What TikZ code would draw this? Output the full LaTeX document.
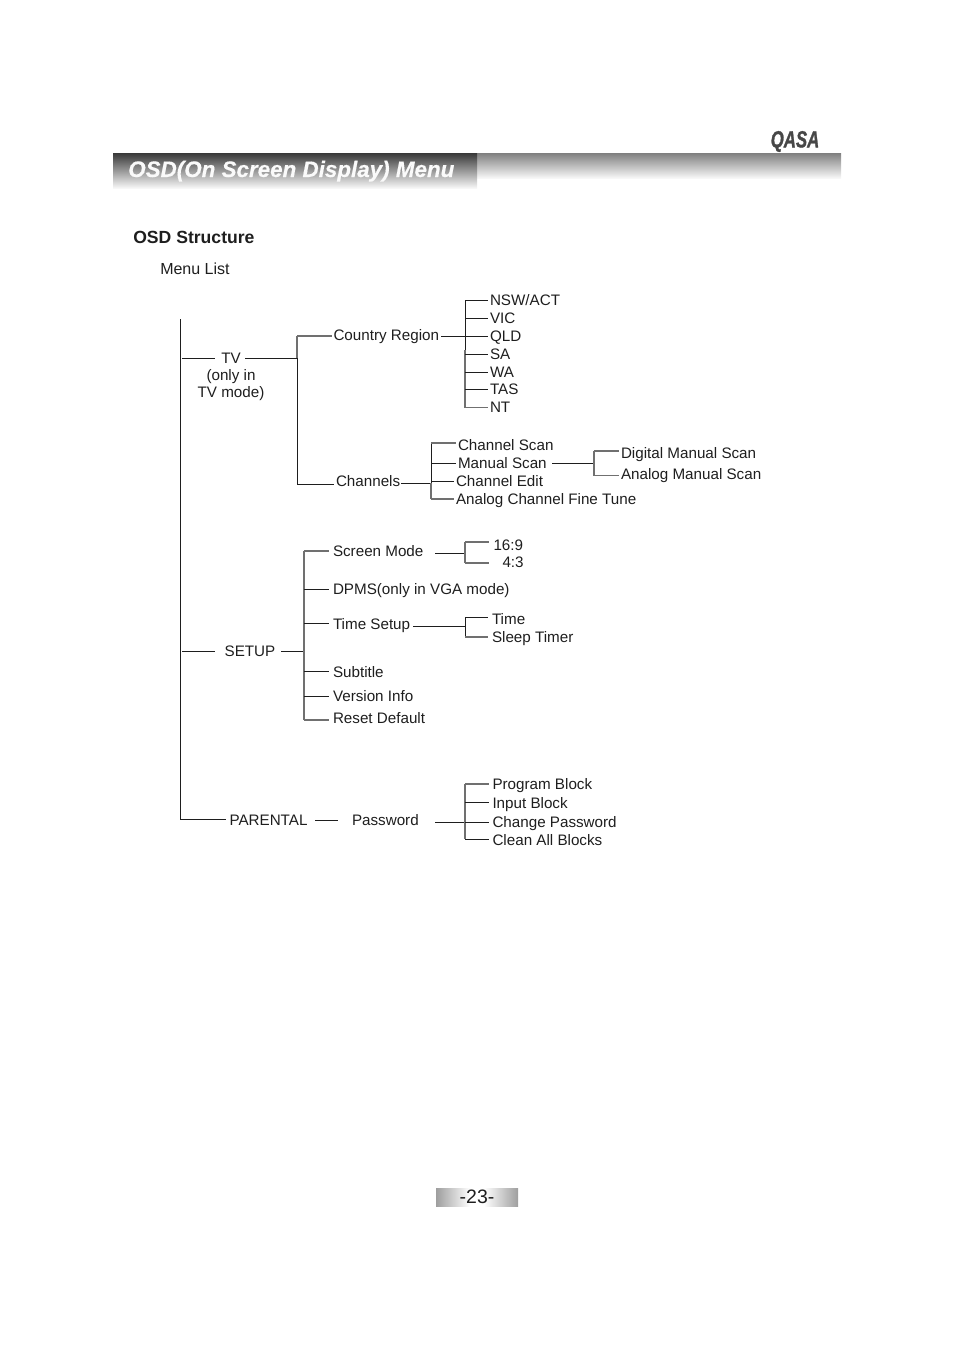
\documentclass[tikz,border=0pt]{standalone}
\usepackage{fontspec}
\setmainfont{Liberation Sans}
\newfontfamily\brandfont{Liberation Sans}[BoldItalicFeatures={FakeBold=1.5}]
\newfontfamily\titlefont{Liberation Sans}[BoldItalicFeatures={FakeBold=0.4}]
\definecolor{ink}{HTML}{1E1E1E}
\definecolor{soft}{HTML}{707070}
\tikzset{
  lab/.style={anchor=west,inner sep=0pt,outer sep=1.5pt,text height=8.2pt,text depth=0pt,font=\fontsize{11.4}{13}\selectfont,text=ink},
  gapped/.style={outer sep=3pt},
  ctr/.style={lab,anchor=center},
  wire/.style={draw=ink,line width=0.75pt},
  softwire/.style={draw=soft,line width=0.85pt}
}
\begin{document}
\begin{tikzpicture}[x=0.75pt,y=-0.75pt]
\useasboundingbox (0,0) rectangle (954,1350);
% header
\fill[top color=black!50,bottom color=black!3] (477,153) rectangle (841,178);
\fill[top color=black!78,bottom color=black!3] (113,153) rectangle (477,188);
\node[anchor=west,inner sep=0pt,text height=12pt,text depth=0pt,text=black!2,font=\titlefont\fontsize{16.8}{20}\bfseries\itshape\selectfont] (title) at (128,169) {OSD(On Screen Display) Menu};
\node[anchor=center,inner sep=0pt,text=black!72,font=\brandfont\fontsize{17.5}{20}\bfseries\itshape\selectfont,xscale=0.72] (brand) at (795,141.5) {QASA};
\node[anchor=west,inner sep=0pt,text height=9pt,text depth=0pt,font=\fontsize{13.2}{16}\bfseries\selectfont,text=ink] (struct) at (133,237) {OSD Structure};
\node[anchor=west,inner sep=0pt,text height=8.6pt,text depth=0pt,font=\fontsize{12}{14}\selectfont,text=ink] (mlist) at (160,269) {Menu List};
% footer
\fill[left color=black!38,right color=white] (436,1188) rectangle (470,1206);
\fill[white] (470,1188) rectangle (484,1206);
\fill[left color=white,right color=black!38] (484,1188) rectangle (518,1206);
\node[anchor=center,inner sep=0pt,font=\fontsize{14.6}{18}\selectfont,text=ink] (page) at (477,1197) {-23-};
% top level
\node[ctr] (tv) at (231,358) {TV};
\node[ctr] (tv2) at (231,375) {(only in};
\node[ctr] (tv3) at (231,392) {TV mode)};
\node[ctr] (setup) at (250,651) {SETUP};
\node[lab,gapped] (parental) at (225.5,820) {PARENTAL};
\node[lab] (password) at (350,820) {Password};
% level 2
\node[lab] (country) at (331.5,335.5) {Country Region};
\node[lab] (channels) at (334,481.5) {Channels};
\node[lab,gapped] (screen) at (329,551) {Screen Mode};
\node[lab,gapped] (dpms) at (329,589) {DPMS(only in VGA mode)};
\node[lab,gapped] (tsetup) at (329,624) {Time Setup};
\node[lab,gapped] (subtitle) at (329,672) {Subtitle};
\node[lab,gapped] (version) at (329,696) {Version Info};
\node[lab,gapped] (reset) at (329,718.5) {Reset Default};
% regions
\node[lab] (nsw) at (488,300.5) {NSW/ACT};
\node[lab] (vic) at (488,318.5) {VIC};
\node[lab] (qld) at (488,336.5) {QLD};
\node[lab] (sa) at (488,354.5) {SA};
\node[lab] (wa) at (488,372.5) {WA};
\node[lab] (tas) at (488,389.5) {TAS};
\node[lab] (nt) at (488,407.5) {NT};
% channels
\node[lab] (cscan) at (456,445) {Channel Scan};
\node[lab] (mscan) at (456,463) {Manual Scan};
\node[lab] (cedit) at (454,481) {Channel Edit};
\node[lab] (fine) at (454,499) {Analog Channel Fine Tune};
\node[lab] (digital) at (619,453) {Digital Manual Scan};
\node[lab] (analog) at (619,474) {Analog Manual Scan};
% setup children
\node[lab] (r169) at (491.5,545) {16:9};
\node[lab] (r43) at (500.5,562) {4:3};
\node[lab,gapped] (time) at (488,619) {Time};
\node[lab,gapped] (sleep) at (488,637) {Sleep Timer};
% password children
\node[lab,gapped] (pblock) at (488.5,784) {Program Block};
\node[lab,gapped] (iblock) at (488.5,803) {Input Block};
\node[lab,gapped] (cpass) at (488.5,822) {Change Password};
\node[lab,gapped] (clean) at (488.5,840) {Clean All Blocks};
% junctions
\coordinate (trunktop) at (180.5,319);
\coordinate (trunkend) at (180.5,819.5);
\coordinate (tvL) at (182,358);
\coordinate (tvR) at (245,358);
\coordinate (tvbus) at (297,358);
\coordinate (sL) at (182,651.5);
\coordinate (sLe) at (215,651.5);
\coordinate (sR) at (281,651.5);
\coordinate (sbus) at (304,651.5);
\coordinate (ctyR) at (465,336.5);
\coordinate (chbus) at (431,483);
\coordinate (chL) at (401,483);
\coordinate (dgbus) at (594,463);
\coordinate (mR) at (552,463);
\coordinate (smL) at (435,553.5);
\coordinate (smbus) at (465,553.5);
\coordinate (tsbus) at (465,626);
\coordinate (tsL) at (413,626);
\coordinate (pL) at (435,822);
\coordinate (pbus) at (465,822);
\coordinate (pmL) at (315,820);
\coordinate (pmR) at (338,820);
\coordinate (tvEnd) at (215,358);
% wires: root
\draw[wire] (trunktop) -- (trunkend) -- (parental.west |- trunkend);
\draw[wire] (tvL) -- (tvEnd);
\draw[wire] (tvR) -- (tvbus);
\draw[wire] (sL) -- (sLe);
\draw[wire] (sR) -- (sbus);
\draw[wire] (pmL) -- (pmR);
% TV bus
\draw[softwire] (tvbus |- 0,336) -- (tvbus);
\draw[wire] (tvbus) -- (tvbus |- 0,484);
\draw[softwire] (tvbus |- 0,336) -- (country.west |- 0,336);
\draw[wire] (tvbus |- 0,484) -- (channels.west |- 0,484);
\draw[wire] (country.east |- ctyR) -- (ctyR);
\draw[wire] (ctyR |- nsw.west) -- (ctyR |- 0,350);
\draw[softwire] (ctyR |- 0,350) -- (ctyR |- nt.west);
\foreach \n in {nsw,vic,qld,sa,wa,tas} \draw[wire] (ctyR |- \n.west) -- (\n.west);
\draw[softwire] (ctyR |- nt.west) -- (nt.west);
% channels
\draw[wire] (chL) -- (chbus);
\draw[wire] (chbus |- 0,443) -- (chbus);
\draw[softwire] (chbus) -- (chbus |- fine.west);
\draw[softwire] (chbus |- 0,443) -- (cscan.west |- 0,443);
\draw[wire] (chbus |- mscan.west) -- (mscan.west);
\draw[wire] (chbus |- cedit.west) -- (cedit.west);
\draw[softwire] (chbus |- fine.west) -- (fine.west);
\draw[wire] (mR) -- (dgbus);
\draw[softwire] (dgbus |- 0,451) -- (dgbus |- 0,475.5);
\draw[softwire] (dgbus |- 0,451) -- (digital.west |- 0,451);
\draw[softwire] (dgbus |- 0,475.5) -- (analog.west |- 0,475.5);
% setup
\draw[softwire] (sbus |- 0,551) -- (sbus |- 0,720);
\draw[softwire] (sbus |- 0,551) -- (screen.west |- 0,551);
\draw[wire] (sbus |- dpms.west) -- (dpms.west);
\draw[wire] (sbus |- 0,623) -- (tsetup.west |- 0,623);
\draw[wire] (sbus |- 0,671) -- (subtitle.west |- 0,671);
\draw[wire] (sbus |- 0,696) -- (version.west |- 0,696);
\draw[softwire] (sbus |- 0,720) -- (reset.west |- 0,720);
\draw[wire] (smL) -- (smbus);
\draw[softwire] (smbus |- 0,542) -- (smbus |- 0,563);
\draw[softwire] (smbus |- 0,542) -- (489,542);
\draw[softwire] (smbus |- 0,563) -- (489,563);
\draw[wire] (tsL) -- (tsbus);
\draw[wire] (tsbus |- 0,617) -- (tsbus |- 0,637);
\draw[wire] (tsbus |- 0,617) -- (time.west |- 0,617);
\draw[softwire] (tsbus |- 0,637) -- (sleep.west |- 0,637);
% password
\draw[wire] (pL) -- (pbus);
\draw[softwire] (pbus |- 0,784) -- (pbus |- 0,839);
\draw[softwire] (pbus |- 0,784) -- (pblock.west |- 0,784);
\draw[wire] (pbus |- 0,802) -- (iblock.west |- 0,802);
\draw[wire] (pbus) -- (cpass.west);
\draw[wire] (pbus |- 0,839) -- (clean.west |- 0,839);
\end{tikzpicture}
\end{document}
